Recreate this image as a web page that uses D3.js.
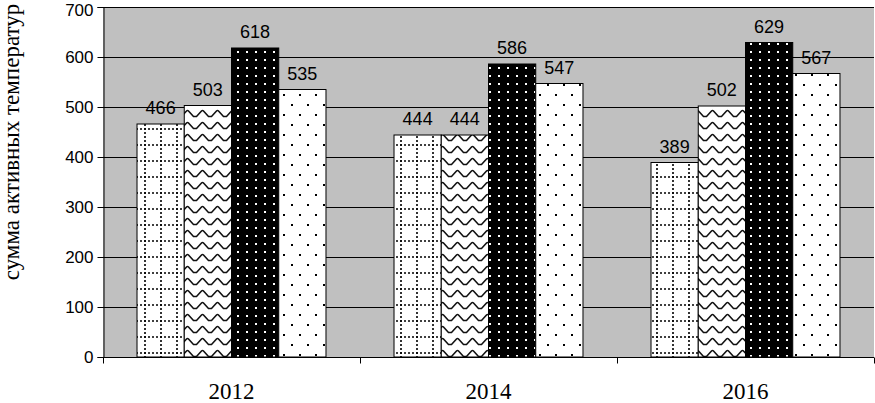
<!DOCTYPE html>
<html><head><meta charset="utf-8">
<script src="https://cdn.jsdelivr.net/npm/d3@7"></script>
<style>
html,body{margin:0;padding:0;background:#fff;}
svg{display:block;}
</style></head>
<body>
<svg id="chart" width="875" height="403"></svg>
<script>
// ---- data ----
const years = ["2012", "2014", "2016"];
const seriesNames = ["s1", "s2", "s3", "s4"];
const series1 = [466, 444, 389];
const series2 = [503, 444, 502];
const series3 = [618, 586, 629];
const series4 = [535, 547, 567];
const yTicks = [0, 100, 200, 300, 400, 500, 600, 700];
const yTitle = "сумма активных температур";

const allSeries = [series1, series2, series3, series4];
const rows = [];
years.forEach((yr, i) => {
  seriesNames.forEach((s, j) => rows.push({year: yr, key: s, idx: j, value: allSeries[j][i]}));
});

// ---- layout ----
const svg = d3.select("#chart");
const plotLeft = 103, plotRight = 874, plotTop = 7, plotBottom = 357;

const x0 = d3.scaleBand().domain(years).range([plotLeft, plotRight]).paddingInner(0).paddingOuter(0);
const x1 = d3.scaleBand().domain(seriesNames).range([0, x0.bandwidth()]).paddingInner(0).paddingOuter(0.72);
const y = d3.scaleLinear().domain([0, 700]).range([plotBottom, plotTop]);

// ---- patterns ----
const defs = svg.append("defs");
// 1: dotted grid
let p = defs.append("pattern").attr("id", "pat0").attr("patternUnits", "userSpaceOnUse")
  .attr("width", 16).attr("height", 16);
p.append("rect").attr("width", 16).attr("height", 16).attr("fill", "#fff");
p.append("path").attr("d", "M0,1 H16 M1,0 V16").attr("stroke", "#000").attr("stroke-width", 1.6)
  .attr("stroke-dasharray", "2,2");
// 2: wave (zigzag)
p = defs.append("pattern").attr("id", "pat1").attr("patternUnits", "userSpaceOnUse")
  .attr("width", 15).attr("height", 12);
p.append("rect").attr("width", 15).attr("height", 12).attr("fill", "#fff");
p.append("path").attr("d", "M0,8.5 L1.5,8.5 L6.5,3 Q7.5,2 8.5,3 L13.5,8.5 L15,8.5")
  .attr("fill", "none").attr("stroke", "#111").attr("stroke-width", 1.6);
// 3: black with white dots
p = defs.append("pattern").attr("id", "pat2").attr("patternUnits", "userSpaceOnUse")
  .attr("width", 9).attr("height", 8);
p.append("rect").attr("width", 9).attr("height", 8).attr("fill", "#000");
p.append("rect").attr("x", 3).attr("y", 3).attr("width", 2).attr("height", 2).attr("fill", "#fff");
// 4: white with sparse black dots
p = defs.append("pattern").attr("id", "pat3").attr("patternUnits", "userSpaceOnUse")
  .attr("width", 16).attr("height", 20);
p.append("rect").attr("width", 16).attr("height", 20).attr("fill", "#fff");
p.append("rect").attr("x", 3).attr("y", 4).attr("width", 2).attr("height", 2).attr("fill", "#000");
p.append("rect").attr("x", 11).attr("y", 14).attr("width", 2).attr("height", 2).attr("fill", "#000");

// ---- plot background ----
svg.append("rect").attr("x", plotLeft).attr("y", plotTop).attr("width", plotRight - plotLeft).attr("height", plotBottom - plotTop)
  .attr("fill", "#c0c0c0");

// gridlines
svg.append("g").selectAll("line").data(yTicks.filter(d => d > 0)).join("line")
  .attr("x1", plotLeft).attr("x2", plotRight)
  .attr("y1", d => Math.round(y(d)) + 0.5).attr("y2", d => Math.round(y(d)) + 0.5)
  .attr("stroke", "#000").attr("stroke-width", 1);

// bars
svg.append("g").selectAll("rect").data(rows).join("rect")
  .attr("x", d => x0(d.year) + x1(d.key))
  .attr("y", d => y(d.value))
  .attr("width", x1.bandwidth())
  .attr("height", d => y(0) - y(d.value))
  .attr("fill", d => `url(#pat${d.idx})`)
  .attr("stroke", "#000").attr("stroke-width", 1);

// value labels
svg.append("g").selectAll("text").data(rows).join("text")
  .attr("x", d => x0(d.year) + x1(d.key) + x1.bandwidth() / 2)
  .attr("y", d => y(d.value) - 10)
  .attr("text-anchor", "middle")
  .attr("font-family", "'Liberation Sans', Arial, sans-serif")
  .attr("font-size", 18)
  .attr("fill", "#000")
  .text(d => d.value);

// y axis
const yAxis = d3.axisLeft(y).tickValues(yTicks).tickSize(6).tickPadding(4).tickFormat(d3.format("d"));
const gy = svg.append("g").attr("transform", `translate(${plotLeft + 0.5},0)`).call(yAxis);
gy.select(".domain").attr("stroke", "#000");
gy.selectAll(".tick line").attr("stroke", "#000");
gy.selectAll(".tick text").attr("font-family", "'Liberation Sans', Arial, sans-serif")
  .attr("font-size", 17).attr("fill", "#000");
// the top label sits slightly lower so it stays inside the frame
gy.selectAll(".tick text").filter(d => d === d3.max(yTicks)).attr("dy", "0.5em");

// x axis (ticks at group boundaries)
const gx = svg.append("g").attr("transform", `translate(0,${plotBottom + 0.5})`);
gx.append("line").attr("x1", plotLeft).attr("x2", plotRight).attr("stroke", "#000");
const bounds = years.map(yr => x0(yr)).concat([plotRight]);
gx.selectAll("line.tk").data(bounds).join("line").attr("class", "tk")
  .attr("x1", d => Math.round(d) + 0.5).attr("x2", d => Math.round(d) + 0.5)
  .attr("y1", 0).attr("y2", 6).attr("stroke", "#000");
gx.selectAll("text").data(years).join("text")
  .attr("x", d => x0(d) + x0.bandwidth() / 2)
  .attr("y", 41)
  .attr("text-anchor", "middle")
  .attr("font-family", "'Liberation Serif', 'Times New Roman', serif")
  .attr("font-size", 23)
  .attr("fill", "#000")
  .text(d => d);

// y title
svg.append("text")
  .attr("transform", `translate(19,142) rotate(-90)`)
  .attr("text-anchor", "middle")
  .attr("font-family", "'Liberation Serif', 'Times New Roman', serif")
  .attr("font-size", 23)
  .attr("fill", "#000")
  .text(yTitle);
</script>
</body></html>
